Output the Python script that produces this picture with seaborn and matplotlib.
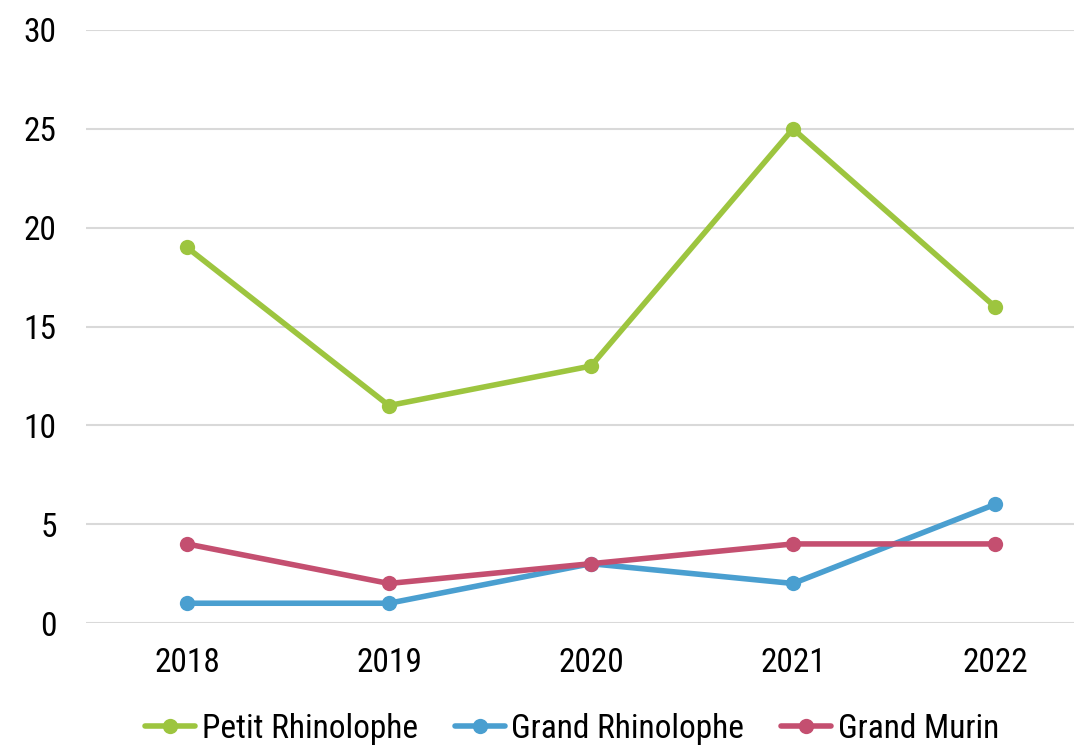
import matplotlib
matplotlib.use("Agg")
import matplotlib.pyplot as plt
import seaborn as sns
import pandas as pd

years = ["2018", "2019", "2020", "2021", "2022"]
petit_rhinolophe = [19, 11, 13, 25, 16]
grand_rhinolophe = [1, 1, 3, 2, 6]
grand_murin = [4, 2, 3, 4, 4]
series_names = ["Petit Rhinolophe", "Grand Rhinolophe", "Grand Murin"]
colors = ["#9DC53F", "#4A9FD0", "#C44F70"]

rows = []
for name, vals in zip(series_names, [petit_rhinolophe, grand_rhinolophe, grand_murin]):
    for y, v in zip(years, vals):
        rows.append({"year": y, "value": v, "series": name})
df = pd.DataFrame(rows)

sns.set_style("white")
plt.rcParams["font.family"] = ["Roboto Condensed", "DejaVu Sans"]
plt.rcParams["text.color"] = "black"

fig = plt.figure(figsize=(10.74, 7.45), dpi=100)
ax = fig.add_axes([86/1074, 122/745, 1010/1074, 593/745])

sns.lineplot(data=df, x="year", y="value", hue="series", hue_order=series_names,
             palette=colors, marker="o", markersize=11, markeredgewidth=0,
             linewidth=4.0, ax=ax, sort=False)

ax.set_xlim(-0.5, 4.5)
ax.set_ylim(0, 30)
ax.set_yticks([0, 5, 10, 15, 20, 25, 30])
ax.yaxis.grid(True, color="#D9D9D9", linewidth=1.5)
ax.set_axisbelow(True)
for s in ax.spines.values():
    s.set_visible(False)
ax.set_xlabel("")
ax.set_ylabel("")
ax.tick_params(axis="both", length=0, labelsize=24, colors="black")
ax.tick_params(axis="y", pad=21)
ax.tick_params(axis="x", pad=17)
for l in ax.get_lines():
    l.set_clip_on(False)

handles, labels = ax.get_legend_handles_labels()
ax.legend(handles, labels, loc="center", bbox_to_anchor=(572/1074, 16/745),
          bbox_transform=fig.transFigure, ncol=3, frameon=False, fontsize=24,
          handlelength=1.5, handletextpad=0.2, columnspacing=1.1,
          labelcolor="black")

fig.savefig("out.png", dpi=100)
